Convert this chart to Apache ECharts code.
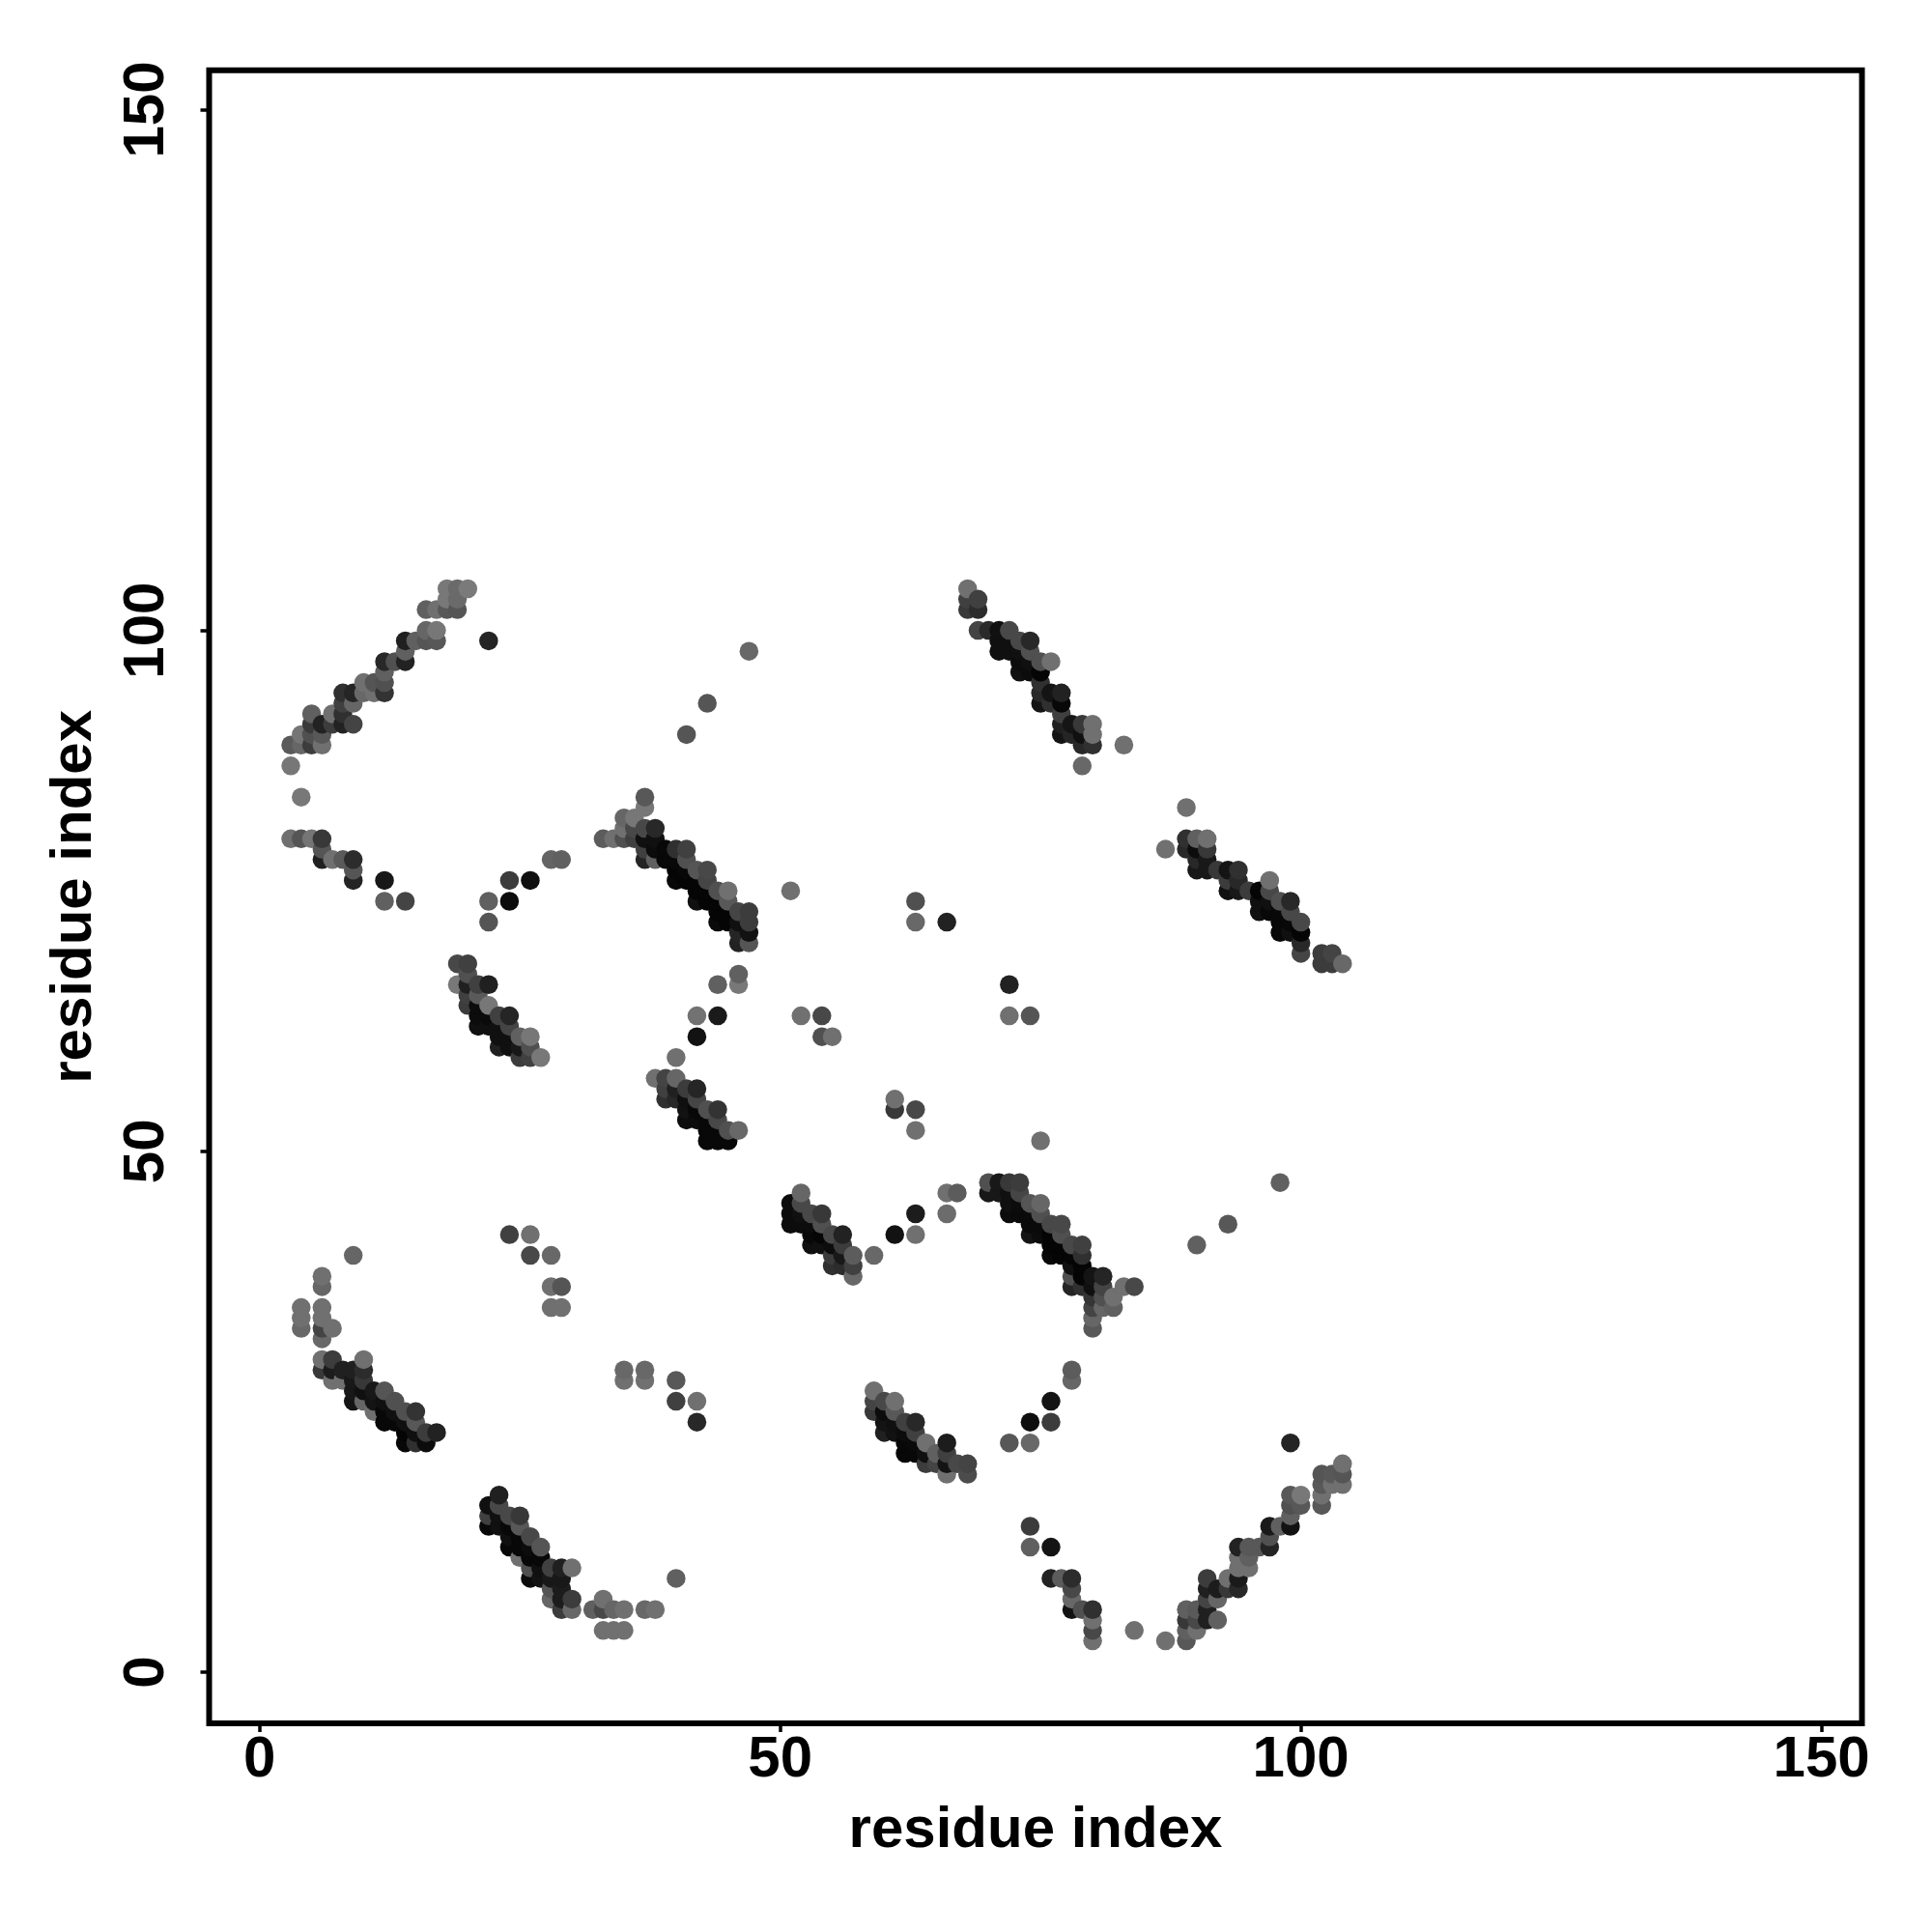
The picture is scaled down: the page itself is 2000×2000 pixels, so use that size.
<!DOCTYPE html>
<html>
<head>
<meta charset="utf-8">
<style>html,body{margin:0;padding:0;background:#fff}#c{width:2000px;height:2000px}</style>
<script src="https://cdn.jsdelivr.net/npm/echarts@6/dist/echarts.min.js"></script>
</head>
<body>
<div id="c"></div>
<script>
const axisTitle = 'residue index';
const tickValues = [0, 50, 100, 150];
// each entry: [residue x, residue y, shade 0..255]
const helixTopLeft = [
[18,104,0x78],[19,104,0x6a],[20,104,0x7a],[18,103,0x78],[19,103,0x6a],[16,102,0x60],[17,102,0x70],[18,102,0x58],[19,102,0x55],
[16,100,0x66],[17,100,0x77],[14,99,0x20],[15,99,0x60],[16,99,0x55],[17,99,0x58],[22,99,0x24],[14,98,0x60],[12,97,0x28],[13,97,0x50],[14,97,0x22],
[12,96,0x60],[10,95,0x70],[11,95,0x55],[12,95,0x50],[8,94,0x30],[9,94,0x25],[10,94,0x68],[11,94,0x70],[12,94,0x33],[8,93,0x40],[9,93,0x66],
[5,92,0x60],[7,92,0x70],[8,92,0x30],[5,91,0x3a],[6,91,0x22],[7,91,0x3c],[8,91,0x22],[9,91,0x44],[4,90,0x75],[5,90,0x50],[6,90,0x58],
[3,89,0x5a],[4,89,0x66],[5,89,0x3c],[6,89,0x70],[3,87,0x77],[4,84,0x78]
];
const turnLeft = [
[3,80,0x70],[4,80,0x55],[5,80,0x75],[6,80,0x38],[6,79,0x55],[6,78,0x20],[7,78,0x70],[8,78,0x5a],[9,78,0x2c],[9,77,0x55],[9,76,0x24],[12,76,0x18],
[12,74,0x60],[14,74,0x44],[22,74,0x60],[24,74,0x0c],[24,76,0x3c],[26,76,0x10],[28,78,0x64],[29,78,0x60],[22,72,0x55]
];
const strandMidLeft = [
[19,68,0x48],[20,68,0x40],[20,67,0x50],[19,66,0x78],[20,66,0x20],[21,66,0x40],[22,66,0x20],[20,65,0x40],[21,65,0x5a],[20,64,0x3c],[21,64,0x0c],[22,64,0x77],
[21,63,0x0c],[22,63,0x0a],[23,63,0x40],[24,63,0x25],[21,62,0x10],[22,62,0x10],[23,62,0x10],[24,62,0x44],[23,61,0x10],[24,61,0x10],[25,61,0x60],[26,61,0x77],
[23,60,0x20],[24,60,0x10],[25,60,0x18],[26,60,0x50],[25,59,0x3c],[26,59,0x40],[27,59,0x78]
];
const strandCentre = [
[37,84,0x58],[37,83,0x77],[35,82,0x66],[36,82,0x77],[35,81,0x70],[36,81,0x48],[37,81,0x48],[38,81,0x28],[33,80,0x5c],[34,80,0x70],[35,80,0x50],[36,80,0x40],[37,80,0x10],[38,80,0x10],
[37,79,0x40],[38,79,0x0c],[39,79,0x08],[40,79,0x30],[41,79,0x40],[37,78,0x25],[38,78,0x60],[39,78,0x08],[40,78,0x08],[41,78,0x50],[40,77,0x05],[41,77,0x08],[42,77,0x55],[43,77,0x48],
[40,76,0x08],[41,76,0x05],[42,76,0x05],[43,76,0x45],[42,75,0x05],[43,75,0x05],[44,75,0x50],[45,75,0x70],[42,74,0x10],[43,74,0x05],[44,74,0x05],[45,74,0x58],
[44,73,0x05],[45,73,0x05],[46,73,0x45],[47,73,0x3c],[44,72,0x0a],[45,72,0x05],[46,72,0x10],[47,72,0x3c],[46,71,0x25],[47,71,0x12],[46,70,0x22],[47,70,0x55],[51,75,0x70]
];
const strandLower = [
[46,67,0x60],[44,66,0x60],[46,66,0x78],[42,63,0x72],[44,63,0x1a],[42,61,0x12],[40,59,0x70],
[38,57,0x70],[39,57,0x44],[40,57,0x66],[39,56,0x40],[40,56,0x20],[41,56,0x3c],[42,56,0x25],[39,55,0x30],[40,55,0x28],[41,55,0x0f],[42,55,0x45],
[41,54,0x12],[42,54,0x08],[43,54,0x50],[44,54,0x33],[41,53,0x0c],[42,53,0x0c],[43,53,0x08],[44,53,0x48],[43,52,0x08],[44,52,0x08],[45,52,0x50],[46,52,0x68],[43,51,0x08],[44,51,0x08],[45,51,0x08]
];
const strandMiddle = [
[52,46,0x66],[51,45,0x0c],[52,45,0x48],[51,44,0x0c],[52,44,0x10],[53,44,0x48],[54,44,0x38],[51,43,0x0c],[52,43,0x0c],[53,43,0x0c],[54,43,0x50],
[53,42,0x08],[54,42,0x05],[55,42,0x48],[56,42,0x22],[53,41,0x10],[54,41,0x10],[55,41,0x0c],[56,41,0x3c],[55,40,0x3c],[56,40,0x18],[57,40,0x5c],[59,40,0x68],
[55,39,0x30],[56,39,0x2c],[57,39,0x40],[57,38,0x68],[61,42,0x12],[63,42,0x70],[63,44,0x1c],[66,44,0x6c],[66,46,0x70],[67,46,0x5c],
[61,55,0x70],[61,54,0x38],[63,54,0x48],[63,52,0x70]
];
const strandLong = [
[70,47,0x50],[71,47,0x18],[72,47,0x38],[73,47,0x3c],[70,46,0x18],[71,46,0x18],[72,46,0x10],[73,46,0x45],[72,45,0x10],[73,45,0x0c],[74,45,0x55],[75,45,0x66],
[72,44,0x0c],[73,44,0x0a],[74,44,0x0a],[75,44,0x50],[74,43,0x0a],[75,43,0x0a],[76,43,0x48],[77,43,0x48],[74,42,0x14],[75,42,0x0c],[76,42,0x05],[77,42,0x50],
[76,41,0x05],[77,41,0x05],[78,41,0x48],[79,41,0x40],[76,40,0x08],[77,40,0x05],[78,40,0x05],[79,40,0x30],[78,39,0x10],[79,39,0x05],[78,38,0x50],[79,38,0x05],[80,38,0x14],[81,38,0x25],
[78,37,0x25],[79,37,0x30],[80,37,0x10],[81,37,0x44],[83,37,0x70],[84,37,0x48],[80,36,0x35],[81,36,0x50],[82,36,0x70],[80,35,0x44],[81,35,0x66],[82,35,0x60],[80,34,0x66],[80,33,0x58]
];
const strandUpperRight = [
[68,104,0x70],[68,103,0x40],[69,103,0x40],[68,102,0x38],[69,102,0x2c],[69,100,0x44],[70,100,0x2a],[71,100,0x10],[72,100,0x48],[71,99,0x10],[72,99,0x10],[73,99,0x48],[74,99,0x28],
[71,98,0x10],[72,98,0x10],[73,98,0x10],[74,98,0x50],[73,97,0x0c],[74,97,0x10],[75,97,0x50],[76,97,0x70],[73,96,0x10],[74,96,0x0c],[75,96,0x05],[75,95,0x30],
[75,94,0x28],[76,94,0x14],[77,94,0x22],[75,93,0x14],[76,93,0x30],[77,93,0x08],[77,92,0x40],[77,91,0x20],[78,91,0x15],[79,91,0x38],[80,91,0x70],
[77,90,0x14],[78,90,0x25],[79,90,0x10],[80,90,0x70],[79,89,0x28],[80,89,0x30],[83,89,0x70],[79,87,0x68]
];
const strandFarRight = [
[89,83,0x70],[89,80,0x30],[90,80,0x60],[91,80,0x70],[87,79,0x70],[89,79,0x28],[90,79,0x0c],[91,79,0x38],[90,78,0x28],[91,78,0x18],[90,77,0x18],[91,77,0x18],[92,77,0x38],[93,77,0x14],[94,77,0x30],
[93,76,0x3c],[94,76,0x28],[97,76,0x70],[93,75,0x10],[94,75,0x18],[95,75,0x3c],[96,75,0x05],[97,75,0x48],[96,74,0x10],[97,74,0x10],[98,74,0x50],[99,74,0x28],
[96,73,0x10],[97,73,0x08],[98,73,0x08],[99,73,0x48],[98,72,0x08],[99,72,0x08],[100,72,0x48],[98,71,0x08],[99,71,0x10],[100,71,0x05],[100,70,0x28],[100,69,0x45],
[102,69,0x3c],[103,69,0x44],[102,68,0x3c],[103,68,0x3c],[104,68,0x68]
];
const strandBottomLeft = [
[9,40,0x66],[6,38,0x70],[6,37,0x66],[4,35,0x70],[6,35,0x70],[4,34,0x70],[6,34,0x70],[4,33,0x68],[6,33,0x44],[7,33,0x70],[6,32,0x68],
[6,30,0x70],[7,30,0x3c],[10,30,0x70],[6,29,0x38],[7,29,0x1c],[8,29,0x20],[9,29,0x20],[10,29,0x2c],[7,28,0x70],[8,28,0x70],[9,28,0x18],[10,28,0x38],
[9,27,0x18],[10,27,0x10],[11,27,0x18],[12,27,0x55],[9,26,0x14],[10,26,0x66],[11,26,0x14],[12,26,0x10],[13,26,0x50],[11,25,0x70],[12,25,0x08],[13,25,0x10],[14,25,0x50],[15,25,0x33],
[12,24,0x08],[13,24,0x08],[14,24,0x10],[15,24,0x58],[14,23,0x05],[15,23,0x10],[16,23,0x3c],[17,23,0x22],[14,22,0x08],[15,22,0x30],[16,22,0x0c]
];
const strandBottom = [
[23,17,0x20],[22,16,0x10],[23,16,0x48],[22,15,0x40],[23,15,0x10],[24,15,0x48],[25,15,0x38],[22,14,0x08],[23,14,0x10],[24,14,0x08],[25,14,0x58],[24,13,0x10],[25,13,0x08],[26,13,0x48],
[24,12,0x08],[25,12,0x08],[26,12,0x0c],[27,12,0x55],[25,11,0x70],[26,11,0x08],[27,11,0x08],[26,10,0x50],[27,10,0x10],[28,10,0x40],[29,10,0x20],[30,10,0x70],
[26,9,0x0c],[27,9,0x12],[28,9,0x18],[29,9,0x18],[40,9,0x60],[28,8,0x55],[29,8,0x1c],[28,7,0x66],[29,7,0x1c],[30,7,0x3c],[33,7,0x70],
[29,6,0x3c],[30,6,0x68],[32,6,0x60],[33,6,0x48],[34,6,0x66],[35,6,0x70],[37,6,0x68],[38,6,0x70],[33,4,0x70],[34,4,0x70],[35,4,0x70]
];
const strandBottomMid = [
[59,27,0x70],[59,26,0x44],[60,26,0x48],[61,26,0x70],[59,25,0x38],[60,25,0x0c],[61,25,0x58],[60,24,0x14],[61,24,0x10],[62,24,0x40],[63,24,0x28],[60,23,0x20],[61,23,0x12],[62,23,0x0c],[63,23,0x40],
[62,22,0x08],[63,22,0x0a],[64,22,0x70],[66,22,0x1c],[62,21,0x08],[63,21,0x08],[64,21,0x10],[65,21,0x60],[66,21,0x40],[64,20,0x3c],[65,20,0x44],[66,20,0x14],[67,20,0x48],[68,20,0x44],[66,19,0x70],[68,19,0x4c]
];
const strandBottomRight = [
[78,29,0x5c],[78,28,0x66],[76,26,0x14],[74,24,0x0e],[76,24,0x3c],[72,22,0x58],[74,22,0x68],[99,22,0x24],[74,14,0x3c],[74,12,0x60],[76,12,0x14],
[76,9,0x22],[77,9,0x5c],[78,9,0x2c],[78,8,0x48],[78,7,0x68],[78,6,0x12],[79,6,0x50],[80,6,0x30],[80,5,0x70],[80,4,0x48],[84,4,0x70],[80,3,0x70],[87,3,0x70],[89,3,0x58],
[89,4,0x60],[90,4,0x70],[89,5,0x38],[90,5,0x48],[91,5,0x20],[92,5,0x60],[89,6,0x60],[90,6,0x5a],[91,6,0x20],[91,7,0x44],[92,7,0x66],[91,8,0x20],[92,8,0x1c],[93,8,0x38],[94,8,0x28],
[91,9,0x3c],[93,9,0x70],[94,9,0x1a],[94,10,0x70],[95,10,0x70],[94,11,0x70],[95,11,0x60],[94,12,0x22],[95,12,0x58],[96,12,0x58],[97,12,0x24],[97,13,0x50],[97,14,0x1a],[98,14,0x60],[99,14,0x12],
[99,15,0x60],[99,16,0x50],[100,16,0x58],[102,16,0x58],[99,17,0x58],[100,17,0x78],[102,17,0x70],[102,18,0x58],[103,18,0x70],[104,18,0x70],[102,19,0x55],[103,19,0x58],[104,19,0x55],[104,20,0x70]
];
const scattered = [
[41,90,0x55],[43,93,0x55],[47,98,0x68],[63,74,0x50],[63,72,0x68],[66,72,0x22],[52,63,0x70],[54,63,0x48],[54,61,0x50],[55,61,0x70],
[72,66,0x22],[72,63,0x70],[74,63,0x55],[75,51,0x70],[98,47,0x60],[93,43,0x58],[90,41,0x60],
[24,42,0x40],[26,42,0x70],[26,40,0x48],[28,40,0x68],[28,37,0x70],[29,37,0x55],[28,35,0x70],[29,35,0x70],
[35,29,0x68],[37,29,0x68],[35,28,0x70],[37,28,0x70],[40,28,0x58],[42,26,0x70],[40,26,0x40],[42,24,0x28]
];

const contacts = [].concat(helixTopLeft, turnLeft, strandMidLeft, strandCentre, strandLower, strandMiddle,
  strandLong, strandUpperRight, strandFarRight, strandBottomLeft, strandBottom, strandBottomMid, strandBottomRight, scattered)
  .sort((a, b) => a[0] - b[0] || a[1] - b[1]);

const font = '"Liberation Sans", Arimo, Helvetica, Arial, sans-serif';
const chart = echarts.init(document.getElementById('c'), null, {renderer: 'canvas'});
function axis(extra) {
  return Object.assign({
    type: 'value',
    name: axisTitle, nameLocation: 'middle',
    nameTextStyle: {fontFamily: font, fontWeight: 'bold', fontSize: 60, color: '#000'},
    splitLine: {show: false},
    axisLine: {show: false, onZero: false},
    axisTick: {show: true, length: 9, customValues: tickValues, lineStyle: {color: '#000', width: 3.5}}
  }, extra);
}
chart.setOption({
  animation: false,
  backgroundColor: '#fff',
  grid: {show: true, left: 216.5, top: 72.7, width: 1711, height: 1711.3, borderColor: '#000', borderWidth: 6, backgroundColor: 'transparent', containLabel: false},
  xAxis: axis({min: -4.84, max: 153.88, nameGap: 81, axisLabel: {customValues: tickValues, margin: 8, fontFamily: font, fontWeight: 'bold', fontSize: 60, color: '#000', hideOverlap: false, showMinLabel: true, showMaxLabel: true}}),
  yAxis: axis({min: -4.92, max: 153.78, nameGap: 109, axisLabel: {customValues: tickValues, rotate: 90, margin: 34, fontFamily: font, fontWeight: 'bold', fontSize: 60, color: '#000', hideOverlap: false, showMinLabel: true, showMaxLabel: true}}),
  series: [{
    type: 'scatter',
    symbol: 'circle',
    symbolSize: 19.5,
    data: contacts,
    large: false,
    itemStyle: {opacity: 1, color: p => { const s = p.value[2]; return 'rgb(' + s + ',' + s + ',' + s + ')'; }}
  }]
});
</script>
</body>
</html>
